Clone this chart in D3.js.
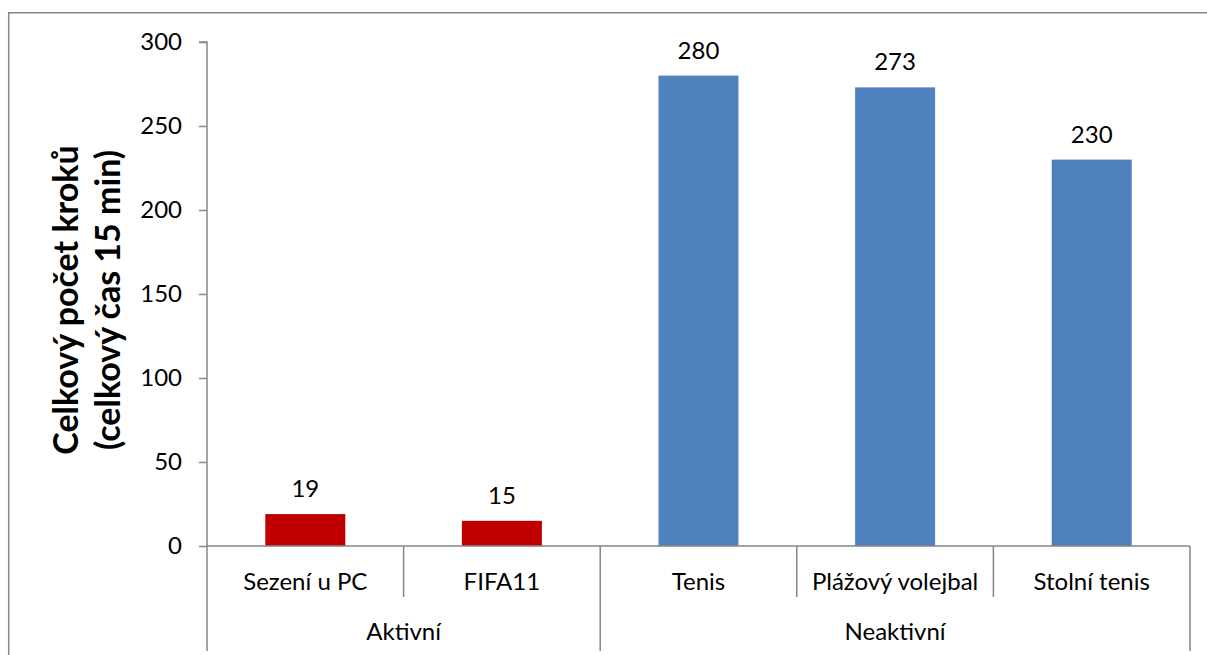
<!DOCTYPE html>
<html>
<head>
<meta charset="utf-8">
<script src="https://cdn.jsdelivr.net/npm/d3@7"></script>
<style>
  html, body { margin: 0; padding: 0; background: #fff; }
  svg { display: block; }
  text { font-family: Lato, "Liberation Sans", "DejaVu Sans", sans-serif; fill: #000; }
</style>
</head>
<body>
<svg id="chart" width="1207" height="655"></svg>
<script>
// Steps counted per activity, grouped by activity type
const categories = ["Sezení u PC", "FIFA11", "Tenis", "Plážový volejbal", "Stolní tenis"];
const groups = ["Aktivní", "Aktivní", "Neaktivní", "Neaktivní", "Neaktivní"];
const values = [19, 15, 280, 273, 230];
const barColors = ["#C00000", "#C00000", "#4F81BD", "#4F81BD", "#4F81BD"];
const yTicks = [0, 50, 100, 150, 200, 250, 300];
const yTitle = ["Celkový počet kroků", "(celkový čas 15 min)"];

const svg = d3.select("#chart");
const axisColor = "#868686";
const fontSize = "24px";

// outer frame (left and top edges; the rest runs past the page)
svg.append("path")
  .attr("d", "M8.7,660V12.7H1210")
  .attr("fill", "none").attr("stroke", axisColor).attr("stroke-width", 1.5);

const plotLeft = 207, plotRight = 1190, plotTop = 42, plotBottom = 546;

const x = d3.scaleBand().domain(categories).range([plotLeft, plotRight]).paddingInner(0).paddingOuter(0);
const y = d3.scaleLinear().domain([0, 300]).range([plotBottom, plotTop]);

const barW = 80;

// y axis
const yAxis = d3.axisLeft(y).tickValues(yTicks).tickSize(8).tickPadding(17);
const gy = svg.append("g").attr("transform", `translate(${plotLeft},0)`).call(yAxis);
gy.select(".domain").attr("stroke", axisColor).attr("stroke-width", 1.5).attr("d", `M-8,${plotTop}H0V${plotBottom}`);
gy.selectAll(".tick line").attr("stroke", axisColor).attr("stroke-width", 1.5);
gy.selectAll(".tick text").style("font-size", fontSize).attr("fill", "#000");

// bars
svg.append("g").selectAll("rect").data(values).join("rect")
  .attr("x", (d, i) => x(categories[i]) + (x.bandwidth() - barW) / 2)
  .attr("y", d => y(d))
  .attr("width", barW)
  .attr("height", d => y(0) - y(d))
  .attr("fill", (d, i) => barColors[i]);

// value labels
svg.append("g").selectAll("text").data(values).join("text")
  .attr("x", (d, i) => x(categories[i]) + x.bandwidth() / 2)
  .attr("y", d => y(d) - 17)
  .attr("text-anchor", "middle")
  .style("font-size", fontSize)
  .text(d => d);

// x axis baseline
svg.append("line")
  .attr("x1", plotLeft).attr("x2", plotRight)
  .attr("y1", plotBottom).attr("y2", plotBottom)
  .attr("stroke", axisColor).attr("stroke-width", 1.5);

// category labels
svg.append("g").selectAll("text").data(categories).join("text")
  .attr("x", d => x(d) + x.bandwidth() / 2)
  .attr("y", 590)
  .attr("text-anchor", "middle")
  .style("font-size", fontSize)
  .text(d => d);

// separators: short between categories, long between groups
const boundaries = d3.range(categories.length + 1).map(i => {
  const pos = i < categories.length ? x(categories[i]) : plotRight;
  const isGroupEdge = i === 0 || i === categories.length || groups[i] !== groups[i - 1];
  return { pos, isGroupEdge };
});
svg.append("g").selectAll("line").data(boundaries).join("line")
  .attr("x1", d => d.pos).attr("x2", d => d.pos)
  .attr("y1", plotBottom).attr("y2", d => d.isGroupEdge ? 651 : 597)
  .attr("stroke", axisColor).attr("stroke-width", 1.5);

// group labels
const groupNames = Array.from(new Set(groups));
const groupSpans = groupNames.map(g => {
  const idx = categories.map((c, i) => i).filter(i => groups[i] === g);
  const x0 = x(categories[idx[0]]);
  const x1 = x(categories[idx[idx.length - 1]]) + x.bandwidth();
  return { g, mid: (x0 + x1) / 2 };
});
svg.append("g").selectAll("text").data(groupSpans).join("text")
  .attr("x", d => d.mid)
  .attr("y", 640)
  .attr("text-anchor", "middle")
  .style("font-size", fontSize)
  .text(d => d.g);

// y axis title, two lines rotated
const titleG = svg.append("g").attr("transform", "translate(0,300) rotate(-90)");
titleG.selectAll("text").data(yTitle).join("text")
  .attr("x", 0)
  .attr("y", (d, i) => i === 0 ? 78 : 120)
  .attr("text-anchor", "middle")
  .style("font-size", "34px")
  .style("font-weight", "bold")
  .text(d => d);
</script>
</body>
</html>
